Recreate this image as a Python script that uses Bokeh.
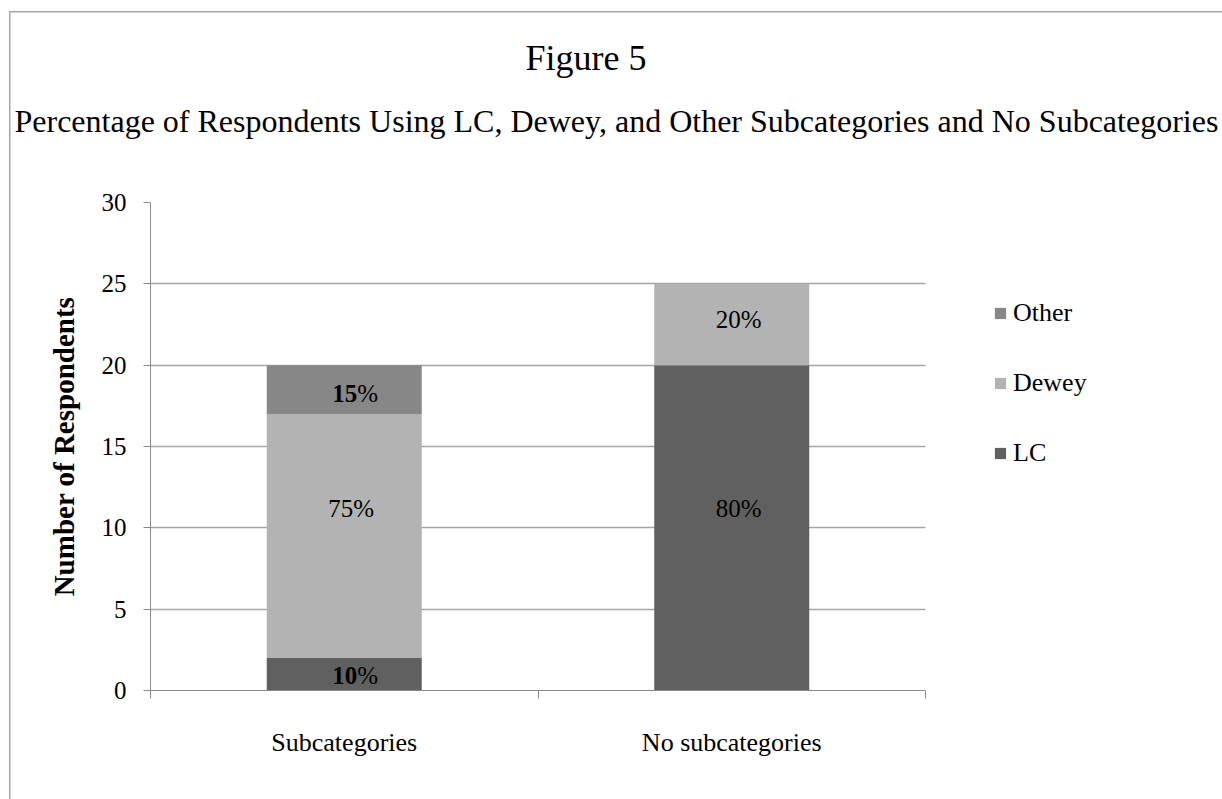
from bokeh.plotting import figure
from bokeh.models import (Range1d, LinearAxis, FixedTicker, Legend, LegendItem, Title, Grid,
                          ColumnDataSource)
from bokeh.core.properties import value
from bokeh.embed import file_html
from bokeh.resources import INLINE

# ---- data ----
categories = ["Subcategories", "No subcategories"]
series = ["LC", "Dewey", "Other"]
lc_values = [2, 20]
dewey_values = [15, 5]
other_values = [3, 0]
pct_labels = {"LC": ["10", "80"], "Dewey": ["75", "20"], "Other": ["15", ""]}
pct_bold = {"LC": [True, False], "Dewey": [False, False], "Other": [True, False]}
y_ticks = [0, 5, 10, 15, 20, 25, 30]
title_text = "Figure 5"
subtitle_text = "Percentage of Respondents Using LC, Dewey, and Other Subcategories and No Subcategories"
y_label = "Number of Respondents"

colors = {"LC": "#606060", "Dewey": "#b3b3b3", "Other": "#878787"}
FONT = "Liberation Serif"
W, H = 1222, 799
LEFT, PLOT_W = 150, 775          # plot area left edge and width in px

n = len(categories)
xpos = [i + 0.5 for i in range(n)]
# the frame runs to the right edge (legend lives there); categories occupy [0, n]
x_end = n * (W - LEFT) / PLOT_W

p = figure(width=W, height=H, x_range=Range1d(0, x_end), y_range=Range1d(0, 30),
           output_backend="svg", toolbar_location=None,
           x_axis_location=None, y_axis_location=None,
           min_border_left=LEFT, min_border_right=0, min_border_top=202, min_border_bottom=109)
p.outline_line_color = None
p.background_fill_color = "white"
p.border_fill_color = None
p.styles = {"background": ("linear-gradient(#a6a6a6, #a6a6a6) 9px 11px / 1.5px 3000px no-repeat, "
                           "linear-gradient(#a6a6a6, #a6a6a6) 9px 11px / 3000px 1.5px no-repeat, "
                           "#ffffff")}

# y axis
yax = LinearAxis(ticker=FixedTicker(ticks=y_ticks))
yax.major_tick_out = 7
yax.major_tick_in = 0
yax.minor_tick_line_color = None
yax.axis_line_color = "#8a8a8a"
yax.major_tick_line_color = "#8a8a8a"
yax.major_label_standoff = 17
yax.major_label_text_font = FONT
yax.major_label_text_font_size = "25px"
yax.major_label_text_color = "black"
yax.axis_label = y_label
yax.axis_label_text_font = FONT
yax.axis_label_text_font_size = "29px"
yax.axis_label_text_font_style = "bold"
yax.axis_label_text_color = "black"
yax.axis_label_standoff = 19
p.add_layout(yax, "left")

# x axis: labels at category centres, tick marks at category boundaries (minor ticks)
xax = LinearAxis(ticker=FixedTicker(ticks=xpos, minor_ticks=list(range(n + 1))),
                 major_label_overrides={x: c for x, c in zip(xpos, categories)},
                 bounds=(0, n))
xax.axis_line_color = "#8a8a8a"
xax.major_tick_line_color = None
xax.major_tick_out = 0
xax.major_tick_in = 0
xax.minor_tick_line_color = "#8a8a8a"
xax.minor_tick_out = 8
xax.minor_tick_in = 0
xax.major_label_standoff = 29
xax.major_label_text_font = FONT
xax.major_label_text_font_size = "26px"
xax.major_label_text_color = "black"
p.add_layout(xax, "below")

# grid (limited to the plot area [0, n] horizontally)
p.xgrid.grid_line_color = None
if "cross_bounds" in Grid.properties():
    p.ygrid.ticker = FixedTicker(ticks=y_ticks[1:])
    p.ygrid.cross_bounds = (0, n)
    p.ygrid.grid_line_color = "#a6a6a6"
    p.ygrid.grid_line_width = 1.3
else:
    p.ygrid.grid_line_color = None
    p.segment(x0=[0] * (len(y_ticks) - 1), x1=[n] * (len(y_ticks) - 1),
              y0=y_ticks[1:], y1=y_ticks[1:], line_color="#a6a6a6", line_width=1.3,
              level="underlay")

# bars
src = ColumnDataSource(dict(x=xpos, LC=lc_values, Dewey=dewey_values, Other=other_values))
rs = p.vbar_stack(series, x="x", width=0.4, source=src,
                  color=[colors[s] for s in series], line_color=None)

# segment labels
base = [0] * n
y_off_style = {"LC": [1, -19], "Dewey": [-27, -5], "Other": [4, 0]}
for s in series:
    vals = dict(LC=lc_values, Dewey=dewey_values, Other=other_values)[s]
    for i in range(n):
        txt = pct_labels[s][i]
        if txt and vals[i] > 0:
            yc = base[i] + vals[i] / 2
            yo = y_off_style[s][i]
            if pct_bold[s][i]:
                p.text(x=[xpos[i]], y=[yc], text=[txt], text_align="right", text_baseline="middle",
                       x_offset=13, y_offset=yo, text_font=value(FONT), text_font_size="25px",
                       text_font_style="bold", text_color="black")
                p.text(x=[xpos[i]], y=[yc], text=["%"], text_align="left", text_baseline="middle",
                       x_offset=13, y_offset=yo, text_font=value(FONT), text_font_size="25px",
                       text_color="black")
            else:
                p.text(x=[xpos[i]], y=[yc], text=[txt + "%"], text_align="center",
                       text_baseline="middle", x_offset=7, y_offset=yo, text_font=value(FONT),
                       text_font_size="25px", text_color="black")
        base[i] += vals[i]

# legend (inside the wide frame, right of the plot area)
items = [LegendItem(label=s, renderers=[rs[series.index(s)]]) for s in reversed(series)]
legend = Legend(items=items, location=(843, 222), orientation="vertical",
                glyph_width=14, glyph_height=14, label_height=30, spacing=40,
                label_standoff=6, padding=0, margin=0, border_line_color=None,
                background_fill_alpha=0, label_text_font=FONT, label_text_font_size="26px",
                label_text_color="black")
p.add_layout(legend, "center")

# titles
p.add_layout(Title(text=subtitle_text, align="left", offset=-136, standoff=127,
                   text_font=FONT, text_font_size="32px", text_font_style="normal",
                   text_color="black"), "above")
p.add_layout(Title(text=title_text, align="left", offset=375, standoff=-80,
                   text_font=FONT, text_font_size="36px", text_font_style="normal",
                   text_color="black"), "above")

open("out.html", "w").write(file_html(p, INLINE))
